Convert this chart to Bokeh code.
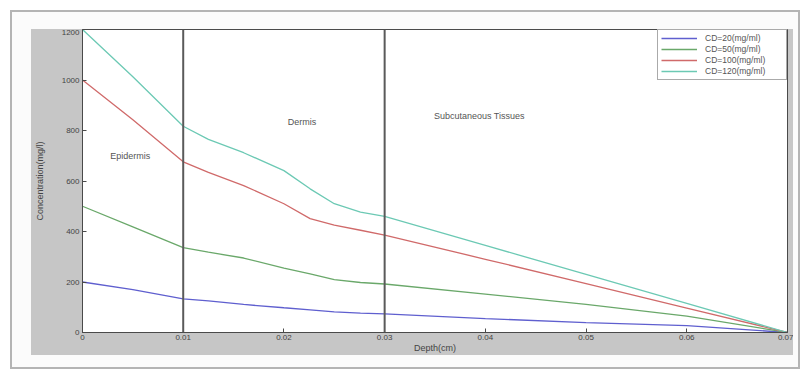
from bokeh.plotting import figure
from bokeh.layouts import column
from bokeh.models import FixedTicker, Label, Legend, LegendItem, Span
from bokeh.embed import file_html
from bokeh.resources import INLINE

# ---- data ----
depth = [0, 0.005, 0.01, 0.0125, 0.016, 0.02, 0.0226, 0.025, 0.0276, 0.03, 0.04, 0.05, 0.06, 0.07]
cd20 = [200, 170, 133, 125, 111, 98, 90, 82, 77, 74, 55, 39, 27, 0]
cd50 = [500, 418, 336, 318, 295, 255, 232, 209, 198, 192, 152, 111, 65, 0]
cd100 = [1000, 843, 676, 634, 582, 510, 451, 425, 405, 386, 290, 194, 97, 0]
cd120 = [1200, 1013, 817, 765, 712, 641, 569, 510, 477, 460, 345, 230, 115, 0]
series_names = ["CD=20(mg/ml)", "CD=50(mg/ml)", "CD=100(mg/ml)", "CD=120(mg/ml)"]
series_colors = ["#5f5fcf", "#6aa86a", "#d06a6a", "#6cc9b4"]
layer_bounds = [0.01, 0.03]
layer_names = ["Epidermis", "Dermis", "Subcutaneous Tissues"]
x_ticks = [0, 0.01, 0.02, 0.03, 0.04, 0.05, 0.06, 0.07]
x_tick_labels = ["0", "0.01", "0.02", "0.03", "0.04", "0.05", "0.06", "0.07"]
y_ticks = [0, 200, 400, 600, 800, 1000, 1200]

FONT = "Liberation Sans"
GRAY = "#c6c6c6"
OUTER = "#fbfbfb"

fig = figure(width=762, height=326, output_backend="svg", toolbar_location=None,
             x_range=(0, 0.07), y_range=(0, 1200),
             min_border_left=49, min_border_right=6, min_border_top=0, min_border_bottom=20)
fig.border_fill_color = None
fig.background_fill_color = "white"
fig.outline_line_color = "#4a4a4a"
fig.xgrid.visible = False
fig.ygrid.visible = False
fig.styles = {"background-color": GRAY}

ax_style = dict(major_tick_in=4, major_tick_out=0, minor_tick_in=0, minor_tick_out=0,
                axis_line_color="#4a4a4a", major_tick_line_color="#4a4a4a",
                major_label_text_font=FONT, major_label_text_font_size="8px",
                major_label_text_color="#444444",
                axis_label_text_font=FONT, axis_label_text_font_size="9px",
                axis_label_text_font_style="normal", axis_label_text_color="#444444")

xa = fig.xaxis[0]
xa.ticker = FixedTicker(ticks=x_ticks)
xa.major_label_overrides = {t: s for t, s in zip(x_ticks, x_tick_labels)}
xa.axis_label = "Depth(cm)"
xa.major_label_standoff = 2
xa.axis_label_standoff = 0
for k, v in ax_style.items():
    setattr(xa, k, v)

ya = fig.yaxis[0]
ya.ticker = FixedTicker(ticks=y_ticks)
ya.axis_label = "Concentration(mg/l)"
ya.major_label_standoff = 3
ya.axis_label_standoff = 14
for k, v in ax_style.items():
    setattr(ya, k, v)

# layer boundaries
for b in layer_bounds:
    fig.add_layout(Span(location=b, dimension="height", line_color="#5a5a5a", line_width=2))

# curves
renderers = []
for ys, c in zip([cd20, cd50, cd100, cd120], series_colors):
    renderers.append(fig.line(depth, ys, line_color=c, line_width=1.3))

legend = Legend(items=[LegendItem(label=n, renderers=[r]) for n, r in zip(series_names, renderers)],
                location="top_right", label_text_font=FONT, label_text_font_size="8.5px",
                label_text_color="#555555", label_height=10, glyph_height=10, glyph_width=36,
                label_width=78, spacing=1, padding=3, margin=0, label_standoff=8,
                border_line_color="#555555", background_fill_color="white",
                background_fill_alpha=1)
fig.add_layout(legend)

# layer labels
for name, x, y in zip(layer_names, [0.00475, 0.0218, 0.0394], [698, 835, 859]):
    fig.add_layout(Label(x=x, y=y, text=name, text_align="center", text_baseline="middle",
                         text_font=FONT, text_font_size="9px", text_color="#555555"))

inner = column(fig, styles={"padding": "19px 7px 14px 21px",
                            "background-color": OUTER,
                            "box-shadow": "inset 0 0 0 2px #b4b4b4"})
p = column(inner, styles={"padding": "10px 6px 0px 10px", "background-color": "white"})

open("out.html", "w").write(file_html(p, INLINE))
